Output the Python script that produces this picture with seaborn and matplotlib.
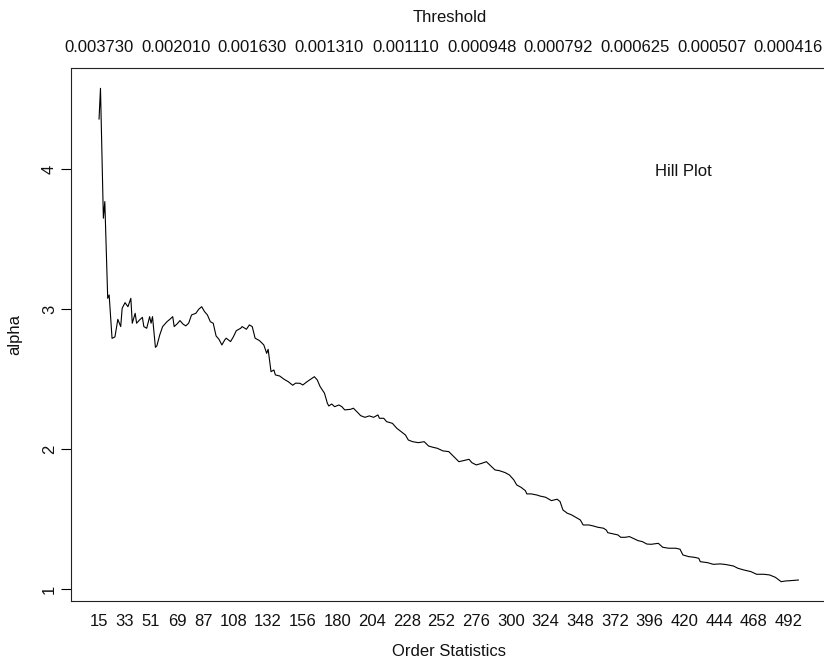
import numpy as np
import pandas as pd
import matplotlib
matplotlib.use('Agg')
import matplotlib.pyplot as plt
import seaborn as sns

# order statistic k and Hill estimate of alpha
k = [15, 16, 18, 19, 21, 22, 24, 26, 28, 30, 31, 33, 35, 37, 38, 40, 41, 43, 45, 46,
     48, 50, 51, 52, 54, 55, 57, 59, 62, 64, 66, 67, 69, 71, 73, 75, 77, 79, 82, 84,
     86, 88, 90, 92, 94, 96, 98, 100, 102, 103, 106, 108, 110, 113, 114, 117, 119, 121, 123, 126,
     129, 131, 132, 134, 136, 137, 140, 143, 146, 149, 151, 154, 156, 159, 164, 166, 168, 171, 173, 174,
     176, 178, 181, 183, 185, 189, 191, 194, 196, 199, 202, 205, 208, 209, 212, 214, 218, 221, 224, 227,
     229, 232, 236, 240, 243, 246, 249, 253, 257, 260, 264, 267, 271, 273, 276, 280, 283, 286, 289, 292,
     296, 299, 302, 304, 307, 310, 311, 314, 318, 320, 324, 328, 332, 334, 336, 339, 342, 346, 348, 350,
     354, 357, 360, 364, 366, 367, 371, 374, 376, 379, 382, 386, 388, 391, 394, 397, 402, 405, 409, 414,
     417, 419, 423, 427, 430, 431, 436, 440, 445, 449, 454, 457, 461, 466, 470, 475, 479, 483, 487, 490,
     493, 499]
alpha = [4.355, 4.576, 3.648, 3.767, 3.076, 3.100, 2.790, 2.800, 2.926, 2.874, 3.005, 3.045, 3.016, 3.076, 2.898, 2.969, 2.898, 2.921, 2.940, 2.874,
         2.862, 2.945, 2.898, 2.945, 2.726, 2.736, 2.814, 2.874, 2.909, 2.926, 2.945, 2.874, 2.893, 2.917, 2.893, 2.879, 2.898, 2.957, 2.969, 2.998,
         3.016, 2.981, 2.957, 2.909, 2.898, 2.807, 2.783, 2.743, 2.779, 2.791, 2.767, 2.802, 2.845, 2.862, 2.874, 2.855, 2.886, 2.874, 2.791, 2.774,
         2.743, 2.683, 2.712, 2.552, 2.564, 2.529, 2.521, 2.498, 2.480, 2.455, 2.470, 2.469, 2.457, 2.481, 2.516, 2.493, 2.445, 2.398, 2.326, 2.307,
         2.321, 2.302, 2.314, 2.302, 2.279, 2.283, 2.291, 2.260, 2.238, 2.226, 2.236, 2.226, 2.243, 2.219, 2.219, 2.195, 2.183, 2.148, 2.124, 2.100,
         2.064, 2.052, 2.045, 2.052, 2.021, 2.012, 2.005, 1.986, 1.981, 1.950, 1.909, 1.916, 1.926, 1.902, 1.886, 1.898, 1.909, 1.879, 1.850, 1.845,
         1.831, 1.814, 1.779, 1.743, 1.726, 1.702, 1.679, 1.679, 1.671, 1.664, 1.655, 1.631, 1.641, 1.624, 1.564, 1.541, 1.529, 1.505, 1.493, 1.457,
         1.457, 1.450, 1.441, 1.434, 1.421, 1.402, 1.393, 1.386, 1.369, 1.369, 1.374, 1.355, 1.345, 1.338, 1.321, 1.319, 1.326, 1.298, 1.291, 1.291,
         1.284, 1.243, 1.231, 1.226, 1.219, 1.195, 1.188, 1.176, 1.179, 1.174, 1.164, 1.148, 1.136, 1.124, 1.105, 1.105, 1.100, 1.083, 1.052, 1.057,
         1.059, 1.064]

order_ticks = [15, 33, 51, 69, 87, 108, 132, 156, 180, 204, 228, 252, 276, 300, 324,
               348, 372, 396, 420, 444, 468, 492]
thresh_pos = [15, 68, 121, 174, 227, 280, 333, 386, 439, 492]
thresh_labels = ['0.003730', '0.002010', '0.001630', '0.001310', '0.001110',
                 '0.000948', '0.000792', '0.000625', '0.000507', '0.000416']
alpha_ticks = [1, 2, 3, 4]

df = pd.DataFrame({'k': k, 'alpha': alpha})

sns.set_style('white')
plt.rcParams['font.family'] = ['Liberation Sans', 'DejaVu Sans']
fs = 12

fig = plt.figure(figsize=(8.24, 6.62), dpi=100)
W, H = 824, 662
# R-style box; the right edge falls just outside the picture, as in the reference
ax = fig.add_axes([71 / W, (H - 601) / H, 757 / W, 533 / H])

sns.lineplot(data=df, x='k', y='alpha', color='black', linewidth=0.8, ax=ax)

ax.set_xlim(-4.4, 519.4)
ax.set_ylim(0.914, 4.721)

ax.set_xticks(order_ticks)
ax.set_xticklabels([str(t) for t in order_ticks])
ax.set_yticks(alpha_ticks)
ax.set_yticklabels([str(t) for t in alpha_ticks], rotation=90, va='center')
ax.tick_params(axis='x', length=0, pad=9, labelsize=fs, colors='#111111')
ax.tick_params(axis='y', direction='out', length=7, width=0.8, color='black',
               pad=3, labelsize=fs, left=True, labelcolor='#111111')

for side in ['left', 'bottom', 'top', 'right']:
    ax.spines[side].set_color('#222222')
    ax.spines[side].set_linewidth(0.8)

ax.set_xlabel('Order Statistics', fontsize=fs, color='#111111')
ax.xaxis.set_label_coords(0.5, -50 / 533)
ax.xaxis.label.set_va('center')
ax.set_ylabel('alpha', fontsize=fs, color='#111111')
ax.yaxis.set_label_coords(-56 / 757, 0.5)
ax.yaxis.label.set_va('center')

top = ax.twiny()
top.set_xlim(ax.get_xlim())
top.set_xticks(thresh_pos)
top.set_xticklabels(thresh_labels)
top.tick_params(axis='x', length=0, pad=9, labelsize=fs, colors='#111111')
top.set_xlabel('Threshold', fontsize=fs, color='#111111')
top.xaxis.set_label_coords(0.5, 1 + 51 / 533)
top.xaxis.label.set_va('center')
for side in ['left', 'bottom', 'top', 'right']:
    top.spines[side].set_visible(False)

ax.text(419, 3.985, 'Hill Plot', fontsize=fs, ha='center', va='center', color='#111111')

fig.savefig('out.png', dpi=100)
plt.close(fig)
